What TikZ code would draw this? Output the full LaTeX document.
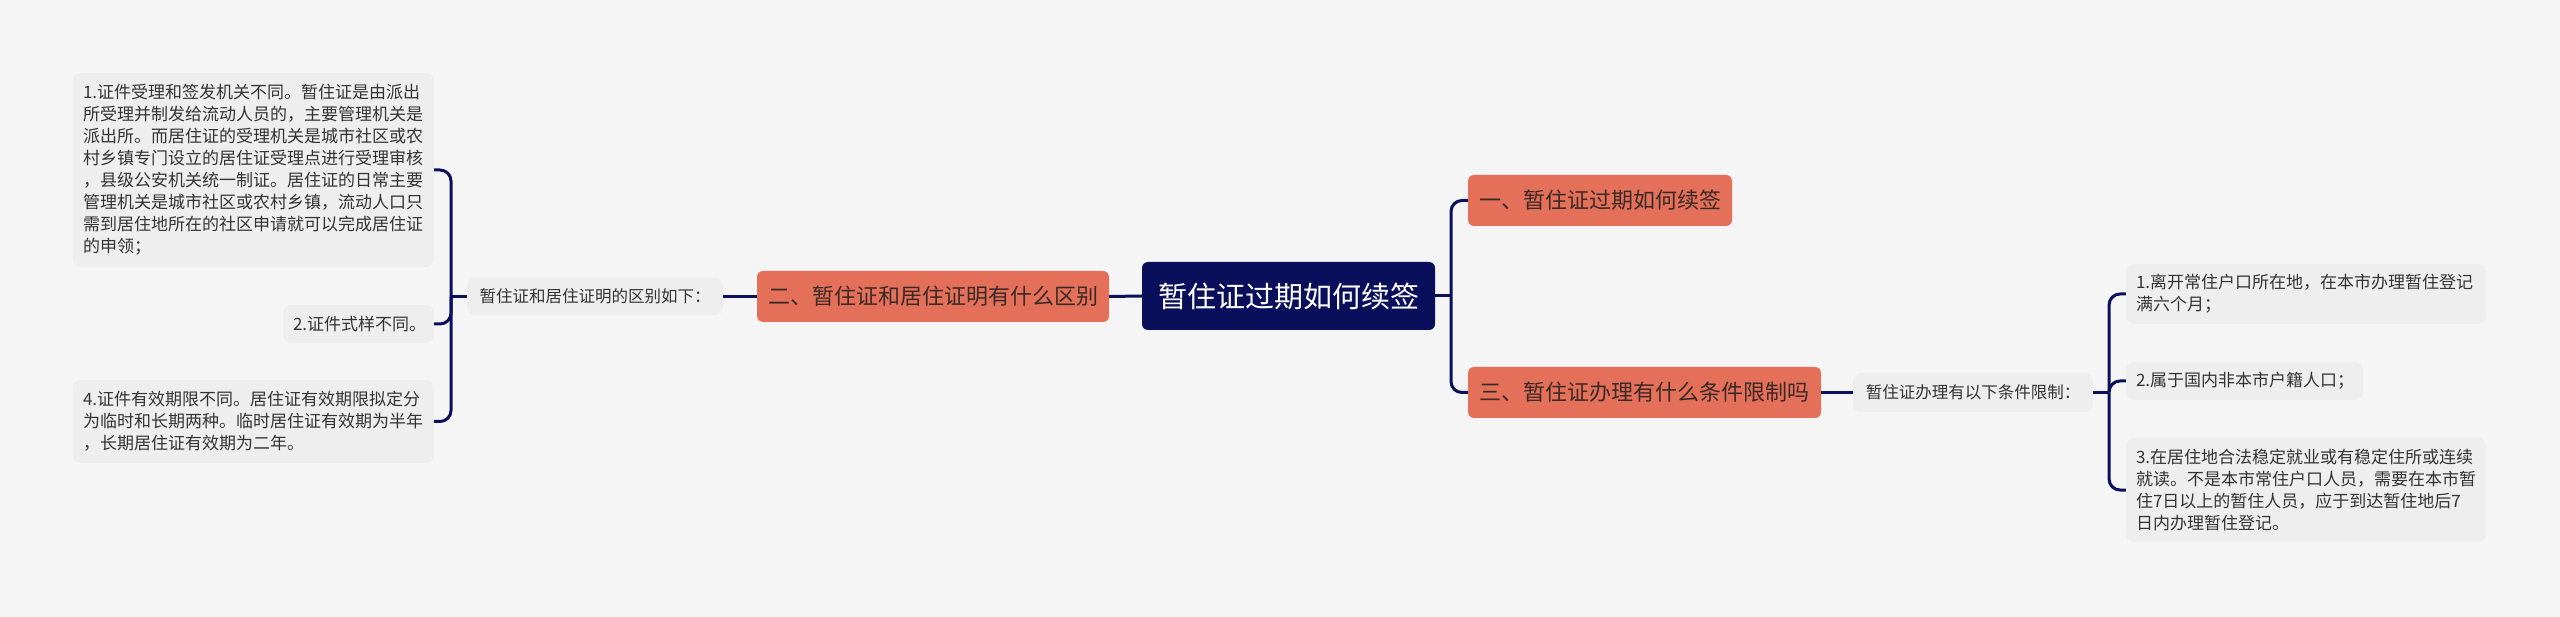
\documentclass[tikz,border=0pt]{standalone}
\usepackage{fontspec}
\setmainfont{Noto Sans CJK SC}
\usetikzlibrary{calc}
\definecolor{bg}{HTML}{F5F5F5}
\definecolor{leaf}{HTML}{EEEEEE}
\definecolor{org}{HTML}{E5705A}
\definecolor{navy}{HTML}{0A0F5C}
\definecolor{txt}{HTML}{333333}
\definecolor{otxt}{HTML}{3A2A26}
\begin{document}
\begin{tikzpicture}[x=1pt,y=-1pt,
  conn/.style={draw=navy,line width=3pt},
  elbow/.style={conn,rounded corners=11pt},
  root/.style={fill=navy,text=white,rounded corners=6pt,inner sep=0pt,font=\fontsize{29}{34}\selectfont},
  topic/.style={fill=org,text=otxt,rounded corners=6pt,inner sep=0pt,font=\fontsize{22}{26}\selectfont},
  lab/.style={fill=leaf,text=txt,rounded corners=8pt,inner sep=0pt,font=\fontsize{16.5}{20}\selectfont},
  leafbox/.style={fill=leaf,text=txt,rounded corners=8pt,inner xsep=10pt,inner ysep=0pt,align=left,font=\fontsize{17}{22}\selectfont},
]
\fill[bg] (0,0) rectangle (2560,617);
\useasboundingbox (0,0) rectangle (2560,617);

% nodes
\node[root,minimum width=293pt,minimum height=68pt] (c) at (1288.5,296) {暂住证过期如何续签};
\node[topic,minimum width=264pt,minimum height=51pt] (n1) at (1600,200.5) {一、暂住证过期如何续签};
\node[topic,minimum width=352pt,minimum height=51pt] (n2) at (933,296.5) {二、暂住证和居住证明有什么区别};
\node[topic,minimum width=353pt,minimum height=51pt] (n3) at (1644.5,392.5) {三、暂住证办理有什么条件限制吗};

\node[lab,minimum width=256pt,minimum height=37pt] (ll) at (595,296.5) {暂住证和居住证明的区别如下：};
\node[lab,minimum width=240pt,minimum height=39pt] (rl) at (1973,392.5) {暂住证办理有以下条件限制：};

\node[leafbox,text width=341pt,minimum height=194pt] (L1) at (253.5,170) {1.证件受理和签发机关不同。暂住证是由派出\\所受理并制发给流动人员的，主要管理机关是\\派出所。而居住证的受理机关是城市社区或农\\村乡镇专门设立的居住证受理点进行受理审核\\，县级公安机关统一制证。居住证的日常主要\\管理机关是城市社区或农村乡镇，流动人口只\\需到居住地所在的社区申请就可以完成居住证\\的申领；};
\node[leafbox,text width=131pt,minimum height=38pt] (L2) at (358.5,324) {2.证件式样不同。};
\node[leafbox,text width=341pt,minimum height=83pt] (L4) at (253.5,421.5) {4.证件有效期限不同。居住证有效期限拟定分\\为临时和长期两种。临时居住证有效期为半年\\，长期居住证有效期为二年。};

\node[leafbox,text width=340pt,minimum height=60pt] (R1) at (2306,294) {1.离开常住户口所在地，在本市办理暂住登记\\满六个月；};
\node[leafbox,text width=217pt,minimum height=38pt] (R2) at (2244.5,381) {2.属于国内非本市户籍人口；};
\node[leafbox,text width=340pt,minimum height=104pt] (R3) at (2306,490) {3.在居住地合法稳定就业或有稳定住所或连续\\就读。不是本市常住户口人员，需要在本市暂\\住7日以上的暂住人员，应于到达暂住地后7\\日内办理暂住登记。};

% junctions
\coordinate (cj) at (1451,296);
\coordinate (lj) at (451,296.5);
\coordinate (rj) at (2109,392.5);

% connectors
\draw[conn] (c.east) -- (cj);
\draw[elbow] (cj) |- (n1.west);
\draw[elbow] (cj) |- (n3.west);
\draw[conn] (c.west) -- (n2.east);
\draw[conn] (n2.west) -- (ll.east);
\draw[conn] (ll.west) -- (lj);
\draw[elbow] (lj) |- (L1.east);
\draw[elbow] (lj) |- (L2.east);
\draw[elbow] (lj) |- (L4.east);
\draw[conn] (n3.east) -- (rl.west);
\draw[conn] (rl.east) -- (rj);
\draw[elbow] (rj) |- (R1.west);
\draw[elbow] (rj) |- (R2.west);
\draw[elbow] (rj) |- (R3.west);
\end{tikzpicture}
\end{document}
